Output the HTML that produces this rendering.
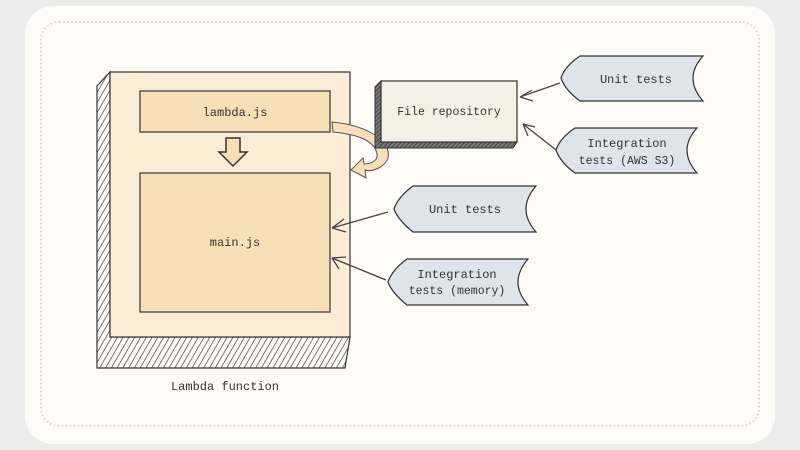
<!DOCTYPE html>
<html><head><meta charset="utf-8"><style>
html,body{margin:0;padding:0;background:#ececec;width:800px;height:450px;overflow:hidden}
text{font-family:"Liberation Mono","DejaVu Sans Mono",monospace;fill:#333}
</style></head><body>
<svg width="800" height="450" viewBox="0 0 800 450" xmlns="http://www.w3.org/2000/svg">
<defs>
<pattern id="h" width="5" height="5" patternUnits="userSpaceOnUse" patternTransform="rotate(30)">
<rect width="5" height="5" fill="#fdfcf8"/><line x1="0" y1="0" x2="0" y2="5" stroke="#333" stroke-width="1.3"/></pattern>
<pattern id="d" width="3" height="3" patternUnits="userSpaceOnUse" patternTransform="rotate(45)">
<rect width="3" height="3" fill="#777"/><line x1="0" y1="0" x2="0" y2="3" stroke="#222" stroke-width="1"/></pattern>
</defs>
<rect x="25" y="6" width="750" height="438" rx="28" fill="#fdfcf8"/>
<rect x="41" y="22" width="718" height="404" rx="18" fill="#fdfcf8" stroke="#dcdcdc" stroke-width="2" stroke-dasharray="2 2"/>
<path d="M110 72 L97 86 L97 368 L345 368 L350 337 L110 337 Z" fill="url(#h)" stroke="#333" stroke-width="1.2"/>
<rect x="110" y="72" width="240" height="265" fill="#fbecd6" stroke="#333" stroke-width="1.2"/>
<rect x="140" y="91" width="190" height="41" fill="#f7dfb8" stroke="#333" stroke-width="1.2"/>
<text x="235" y="116" font-size="12" text-anchor="middle">lambda.js</text>
<rect x="140" y="173" width="190" height="139" fill="#f7dfb8" stroke="#333" stroke-width="1.2"/>
<text x="235" y="246" font-size="12" text-anchor="middle">main.js</text>
<path d="M226 138 L240 138 L240 152 L247 152 L233 166 L219 152 L226 152 Z" fill="#f7dfb8" stroke="#333" stroke-width="1.5"/>
<text x="225" y="390" font-size="12" text-anchor="middle">Lambda function</text>
<path d="M332 122 C365 125 392 140 388 158 C384 168 372 172 365 170 L366 178 L351 170 L363 158 L364 164 C372 164 378 160 377 154 C375 140 355 134 333 132 Z" fill="#f7dfb8" stroke="#555" stroke-width="1"/>
<path d="M381 81 L375 87 L375 148 L513 148 L517 142 L381 142 Z" fill="url(#d)" stroke="#333"/>
<rect x="381" y="81" width="136" height="61" fill="#f4f0e6" stroke="#333" stroke-width="1.2"/>
<text x="449" y="115" font-size="11.5" text-anchor="middle">File repository</text>
<g fill="#dfe3ea" stroke="#333" stroke-width="1.2">
<path d="M580 56 L703 56 Q683 78 703 101 L580 101 Q565 90 561 78 Q565 66 580 56 Z"/>
<path d="M575 128 L697 128 Q677 150 697 173 L575 173 Q560 162 556 150 Q560 138 575 128 Z"/>
<path d="M413 186 L536 186 Q516 209 536 232 L413 232 Q398 220 394 209 Q398 197 413 186 Z"/>
<path d="M407 259 L528 259 Q508 282 528 305 L407 305 Q392 293 388 282 Q392 270 407 259 Z"/>
</g>
<text x="636" y="83" font-size="12" text-anchor="middle">Unit tests</text>
<text x="627" y="147" font-size="12" text-anchor="middle">Integration</text>
<text x="627" y="164" font-size="11.5" text-anchor="middle">tests (AWS S3)</text>
<text x="465" y="213" font-size="12" text-anchor="middle">Unit tests</text>
<text x="457" y="278" font-size="12" text-anchor="middle">Integration</text>
<text x="457" y="294" font-size="11.5" text-anchor="middle">tests (memory)</text>
<g stroke="#444" stroke-width="1.3" fill="none">
<path d="M560 83 L520 97 M520 97 L532 90 M520 97 L533 101"/>
<path d="M556 150 L523 124 M523 124 L528 136 M523 124 L535 127"/>
<path d="M388 212 L332 228 M332 228 L344 219 M332 228 L346 232"/>
<path d="M386 280 L332 258 M332 258 L339 269 M332 258 L346 257"/>
</g>
</svg>
</body></html>
